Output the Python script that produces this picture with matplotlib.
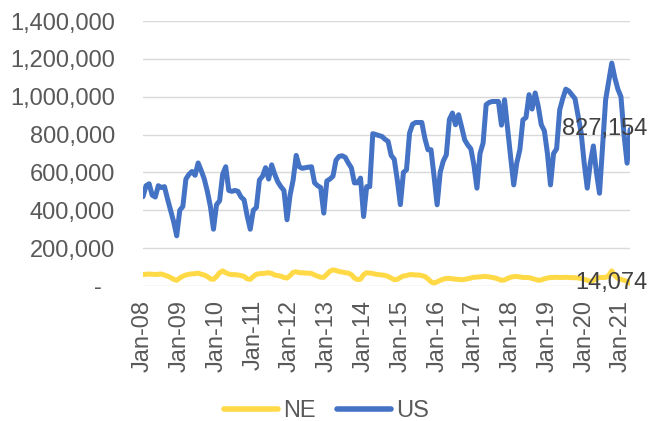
import matplotlib
matplotlib.use("Agg")
import matplotlib.pyplot as plt
from matplotlib.ticker import FuncFormatter

# ---- data (monthly, Jan-08 .. Apr-21) ----
us_values = [
    472000, 530000, 540000, 480000, 470000, 530000, 520000, 525000, 460000, 400000, 340000, 265000,
    400000, 420000, 565000, 590000, 605000, 585000, 650000, 610000, 565000, 500000, 420000, 300000,
    430000, 450000, 590000, 630000, 505000, 500000, 505000, 500000, 470000, 455000, 370000, 300000,
    400000, 415000, 560000, 580000, 625000, 565000, 640000, 590000, 550000, 525000, 505000, 350000,
    480000, 560000, 690000, 630000, 622000, 625000, 628000, 630000, 545000, 530000, 520000, 385000,
    555000, 565000, 580000, 665000, 685000, 688000, 680000, 650000, 625000, 545000, 545000, 570000,
    367000, 525000, 525000, 805000, 800000, 795000, 790000, 775000, 764000, 690000, 670000, 560000,
    430000, 600000, 614000, 808000, 855000, 864000, 864000, 864000, 780000, 720000, 720000, 580000,
    429000, 600000, 660000, 693000, 880000, 914000, 852000, 905000, 840000, 772000, 745000, 725000,
    640000, 517000, 700000, 755000, 958000, 970000, 975000, 975000, 975000, 850000, 984000, 830000,
    680000, 534000, 650000, 720000, 878000, 890000, 1011000, 935000, 1020000, 950000, 852000, 820000,
    700000, 534000, 700000, 725000, 930000, 990000, 1040000, 1030000, 1010000, 990000, 900000, 810000,
    650000, 517000, 650000, 740000, 600000, 490000, 740000, 984000, 1080000, 1178000, 1100000, 1040000,
    1000000, 800000, 649000, 827154,
]
ne_values = [
    60000, 62000, 63000, 62000, 61000, 62000, 63000, 58000, 52000, 45000, 35000, 30000,
    42000, 52000, 58000, 62000, 64000, 65000, 68000, 62000, 58000, 50000, 38000, 35000,
    50000, 70000, 80000, 70000, 63000, 60000, 60000, 58000, 55000, 50000, 38000, 35000,
    50000, 62000, 65000, 66000, 68000, 70000, 66000, 58000, 55000, 52000, 45000, 42000,
    55000, 72000, 75000, 70000, 70000, 68000, 68000, 66000, 58000, 52000, 46000, 46000,
    62000, 78000, 85000, 82000, 76000, 74000, 70000, 68000, 60000, 42000, 34000, 36000,
    60000, 70000, 68000, 66000, 62000, 60000, 58000, 56000, 50000, 42000, 33000, 35000,
    45000, 53000, 55000, 60000, 60000, 58000, 58000, 55000, 50000, 38000, 22000, 16000,
    22000, 30000, 36000, 40000, 40000, 38000, 36000, 35000, 33000, 35000, 38000, 42000,
    46000, 47000, 48000, 50000, 50000, 48000, 45000, 42000, 36000, 30000, 32000, 40000,
    46000, 50000, 50000, 48000, 45000, 45000, 44000, 40000, 35000, 30000, 32000, 38000,
    42000, 45000, 45000, 46000, 45000, 45000, 46000, 45000, 44000, 44000, 42000, 40000,
    35000, 30000, 25000, 30000, 40000, 45000, 45000, 45000, 55000, 80000, 55000, 40000,
    35000, 30000, 25000, 14074,
]
tick_labels = ["Jan-08", "Jan-09", "Jan-10", "Jan-11", "Jan-12", "Jan-13", "Jan-14",
               "Jan-15", "Jan-16", "Jan-17", "Jan-18", "Jan-19", "Jan-20", "Jan-21"]
series_names = ["NE", "US"]
y_ticks = [0, 200000, 400000, 600000, 800000, 1000000, 1200000, 1400000]

# ---- style ----
plt.rcParams["font.family"] = ["Liberation Sans", "DejaVu Sans"]
FS = 17
TXT = "#595959"
C_NE = "#FFD946"
C_US = "#4472C4"
LW = 3.6

fig = plt.figure(figsize=(6.53, 4.21), dpi=100)
ax = fig.add_axes([0.219, 0.3207, 0.746, 0.6293])

x = list(range(len(us_values)))
ax.plot(x, ne_values, color=C_NE, lw=LW, solid_joinstyle="round", solid_capstyle="round",
        label=series_names[0], zorder=3)
ax.plot(x, us_values, color=C_US, lw=LW, solid_joinstyle="round", solid_capstyle="round",
        label=series_names[1], zorder=3)

ax.set_xlim(0, len(us_values) - 1)
ax.set_ylim(0, 1400000)
ax.set_yticks(y_ticks)
ax.yaxis.set_major_formatter(FuncFormatter(lambda v, p: "-  " if v == 0 else f"{int(v):,}"))
ax.set_xticks(list(range(0, 12 * len(tick_labels), 12)))
ax.set_xticklabels(tick_labels, rotation=90)

ax.grid(axis="y", color="#D9D9D9", lw=1.0, zorder=0)
ax.set_axisbelow(True)
for s in ax.spines.values():
    s.set_visible(False)
ax.tick_params(axis="both", length=0, labelsize=FS, labelcolor=TXT)
ax.tick_params(axis="y", pad=20)
ax.tick_params(axis="x", pad=10)

# data labels at last points
ax.annotate(f"{us_values[-1]:,}", xy=(x[-1], us_values[-1]), xytext=(17, 0),
            textcoords="offset pixels", ha="right", va="center", fontsize=FS,
            color="#404040", zorder=5, annotation_clip=False)
ax.annotate(f"{ne_values[-1]:,}", xy=(x[-1], ne_values[-1]), xytext=(17, 0),
            textcoords="offset pixels", ha="right", va="center", fontsize=FS,
            color="#404040", zorder=5, annotation_clip=False)

leg = fig.legend(loc="center", bbox_to_anchor=(0.5, 0.024), ncol=2, frameon=False,
                 fontsize=FS, handlelength=2.3, handletextpad=0.2, columnspacing=0.9,
                 borderpad=0, labelcolor=TXT)
for h in leg.get_lines():
    h.set_linewidth(4.0)

fig.savefig("out.png", dpi=100)
